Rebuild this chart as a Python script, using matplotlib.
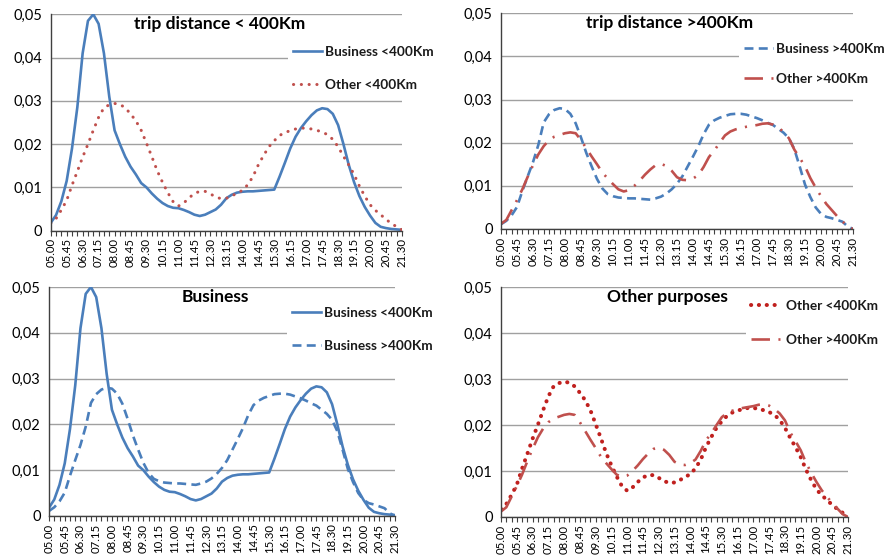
import matplotlib
matplotlib.use("Agg")
import matplotlib.pyplot as plt
from matplotlib.ticker import FuncFormatter

plt.rcParams['font.family'] = ['Lato', 'DejaVu Sans']

# Time of day, every 15 minutes from 05.00 to 21.30
times = [f"{(300 + 15 * k) // 60:02d}.{(300 + 15 * k) % 60:02d}" for k in range(67)]

business_lt400 = [
    0.0018, 0.0036, 0.0068, 0.0115, 0.0190, 0.0285, 0.0410, 0.0485, 0.0500, 0.0478,
    0.0410, 0.0310, 0.0232, 0.0200, 0.0171, 0.0148, 0.0130, 0.0110, 0.0100, 0.0086,
    0.0074, 0.0064, 0.0057, 0.0053, 0.0052, 0.0048, 0.0043, 0.0037, 0.0034, 0.0037,
    0.0043, 0.0049, 0.0060, 0.0075, 0.0083, 0.0088, 0.0090, 0.0091, 0.0091, 0.0092,
    0.0093, 0.0094, 0.0095, 0.0125, 0.0157, 0.0190, 0.0217, 0.0237, 0.0253, 0.0267,
    0.0278, 0.0283, 0.0281, 0.0270, 0.0244, 0.0200, 0.0152, 0.0112, 0.0080, 0.0055,
    0.0035, 0.0018, 0.0009, 0.0006, 0.0004, 0.0003, 0.0002,
]

other_lt400 = [
    0.0017, 0.0028, 0.0048, 0.0070, 0.0105, 0.0137, 0.0170, 0.0200, 0.0232, 0.0262,
    0.0284, 0.0291, 0.0294, 0.0292, 0.0284, 0.0270, 0.0254, 0.0232, 0.0202, 0.0171,
    0.0139, 0.0112, 0.0088, 0.0067, 0.0057, 0.0064, 0.0076, 0.0086, 0.0091, 0.0091,
    0.0085, 0.0078, 0.0074, 0.0075, 0.0080, 0.0087, 0.0093, 0.0106, 0.0125, 0.0152,
    0.0174, 0.0194, 0.0208, 0.0220, 0.0227, 0.0231, 0.0235, 0.0237, 0.0237, 0.0235,
    0.0232, 0.0228, 0.0222, 0.0211, 0.0194, 0.0172, 0.0152, 0.0130, 0.0103, 0.0080,
    0.0060, 0.0047, 0.0037, 0.0026, 0.0017, 0.0009, 0.0002,
]

business_gt400 = [
    0.0011, 0.0019, 0.0032, 0.0051, 0.0088, 0.0122, 0.0155, 0.0195, 0.0247, 0.0266,
    0.0276, 0.0280, 0.0278, 0.0267, 0.0245, 0.0212, 0.0176, 0.0145, 0.0116, 0.0094,
    0.0081, 0.0076, 0.0073, 0.0072, 0.0071, 0.0071, 0.0070, 0.0069, 0.0068, 0.0071,
    0.0075, 0.0082, 0.0092, 0.0105, 0.0122, 0.0145, 0.0168, 0.0192, 0.0220, 0.0242,
    0.0252, 0.0258, 0.0262, 0.0266, 0.0267, 0.0267, 0.0265, 0.0261, 0.0257, 0.0252,
    0.0246, 0.0241, 0.0232, 0.0223, 0.0210, 0.0185, 0.0145, 0.0103, 0.0074, 0.0050,
    0.0035, 0.0028, 0.0025, 0.0021, 0.0017, 0.0006, 0.0000,
]

other_gt400 = [
    0.0012, 0.0021, 0.0044, 0.0067, 0.0092, 0.0121, 0.0148, 0.0173, 0.0192, 0.0206,
    0.0214, 0.0218, 0.0222, 0.0224, 0.0222, 0.0206, 0.0187, 0.0168, 0.0150, 0.0131,
    0.0117, 0.0104, 0.0092, 0.0087, 0.0090, 0.0100, 0.0112, 0.0126, 0.0138, 0.0148,
    0.0151, 0.0146, 0.0135, 0.0120, 0.0114, 0.0113, 0.0117, 0.0125, 0.0144, 0.0167,
    0.0182, 0.0200, 0.0217, 0.0226, 0.0231, 0.0234, 0.0237, 0.0239, 0.0241, 0.0244,
    0.0245, 0.0242, 0.0235, 0.0225, 0.0210, 0.0184, 0.0165, 0.0145, 0.0118, 0.0096,
    0.0076, 0.0058, 0.0044, 0.0030, 0.0018, 0.0006, 0.0000,
]

BLUE = '#4A7EBB'
RED = '#C0504D'
DEEP_RED = '#C0201E'

styles = {
    'Business <400Km': dict(color=BLUE, lw=1.9, linestyle='-', solid_joinstyle='round'),
    'Business >400Km': dict(color=BLUE, lw=1.9, linestyle=(0, (3.4, 2.0))),
    'Other <400Km': dict(color=RED, lw=2.2, linestyle=(0, (0.05, 2.5)),
                         dash_capstyle='round'),
    'Other >400Km': dict(color=RED, lw=1.9, linestyle=(0, (7.0, 3.2, 0.8, 3.2))),
}

series = {
    'Business <400Km': business_lt400,
    'Other <400Km': other_lt400,
    'Business >400Km': business_gt400,
    'Other >400Km': other_gt400,
}

fig = plt.figure(figsize=(8.88, 5.55), dpi=100)

panels = [
    # (axes rect, title, series names, legend anchor, legend spacing, text pad, style overrides)
    ([0.0571, 0.5843, 0.3956, 0.3899], 'trip distance < 400Km',
     ['Business <400Km', 'Other <400Km'], (0.675, 0.880), 1.57, 0.22, {}),
    ([0.5642, 0.5874, 0.3964, 0.3886], 'trip distance >400Km',
     ['Business >400Km', 'Other >400Km'], (0.676, 0.889), 1.35, 0.22, {}),
    ([0.0552, 0.0703, 0.3896, 0.4126], 'Business',
     ['Business <400Km', 'Business >400Km'], (0.688, 0.9376), 1.57, 0.22, {}),
    ([0.5642, 0.0685, 0.3908, 0.4144], 'Other purposes',
     ['Other <400Km', 'Other >400Km'], (0.706, 0.968), 1.65, 0.44,
     {'Other <400Km': dict(color=DEEP_RED, lw=2.9, linestyle=(0, (0.05, 1.9)),
                           dash_capstyle='round')}),
]

x = list(range(len(times)))

for rect, title, names, anchor, spacing, tpad, overrides in panels:
    ax = fig.add_axes(rect)
    for name in names:
        st = dict(styles[name])
        st.update(overrides.get(name, {}))
        ax.plot(x, series[name], label=name, **st)

    ax.set_xlim(0, len(times) - 1)
    ax.set_ylim(0, 0.05)
    ax.set_yticks([0, 0.01, 0.02, 0.03, 0.04, 0.05])
    ax.yaxis.set_major_formatter(FuncFormatter(
        lambda v, p: '0' if abs(v) < 1e-9 else f"{v:.2f}".replace('.', ',')))
    ax.set_xticks(x)
    ax.set_xticklabels([t if k % 3 == 0 else '' for k, t in enumerate(times)],
                       rotation=90, fontsize=8.2)
    ax.tick_params(axis='x', length=3.5, width=0.8, color='#404040', pad=2)
    ax.tick_params(axis='y', length=0, labelsize=10.5, pad=6)
    ax.grid(axis='y', color='#A0A0A0', lw=1.0)
    ax.set_axisbelow(True)
    for s in ('top', 'right'):
        ax.spines[s].set_visible(False)
    ax.spines['left'].set_color('#404040')
    ax.spines['bottom'].set_color('#404040')
    ax.spines['left'].set_linewidth(1.0)
    ax.spines['bottom'].set_linewidth(1.0)

    ax.text(0.48, 0.955, title, transform=ax.transAxes, ha='center', va='center',
            fontsize=12.5, fontweight='bold')

    leg = ax.legend(loc='upper left', bbox_to_anchor=anchor, frameon=True,
                    fancybox=False, framealpha=1.0, edgecolor='none',
                    facecolor='white', prop=dict(size=9.8, weight='bold'),
                    handlelength=2.13, handletextpad=tpad, labelspacing=spacing,
                    borderpad=0.4, borderaxespad=0)
    leg.set_zorder(5)
    for t in leg.get_texts():
        t.set_color('#1A1A1A')

fig.savefig('out.png', dpi=100)
